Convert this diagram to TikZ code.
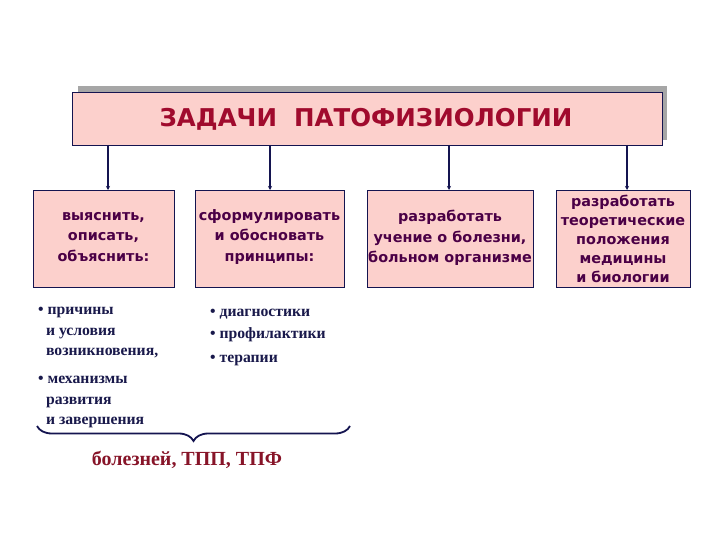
\documentclass[tikz,border=0pt]{standalone}
\usepackage{fontspec}
\setmainfont{Liberation Serif}
\newfontfamily\boxfont{DejaVu Sans}
\usetikzlibrary{arrows.meta,decorations.pathreplacing}
\definecolor{pinkfill}{RGB}{252,208,204}
\definecolor{navy}{RGB}{20,20,80}
\definecolor{titlered}{RGB}{160,10,45}
\definecolor{boxtext}{RGB}{75,0,70}
\definecolor{listtext}{RGB}{25,25,75}
\definecolor{bottomred}{RGB}{135,20,40}
\tikzset{
  pbox/.style={draw=navy,line width=0.8pt,fill=pinkfill,inner sep=0pt},
  btext/.style={font=\boxfont\bfseries\fontsize{14.4}{20.5}\selectfont,text=boxtext,align=center},
  conn/.style={draw=navy,line width=1.6pt,-{Stealth[length=4pt,width=4pt]}},
  ltext/.style={font=\bfseries\fontsize{15.7}{20.5}\selectfont,text=listtext,align=left,anchor=north west,inner sep=0pt},
}
\begin{document}
\begin{tikzpicture}[x=1pt,y=-1pt]
\useasboundingbox[fill=white] (0,0) rectangle (720,540);
% title shadow
\fill[gray!70] (78,86) rectangle (667,140);
\node[pbox,minimum width=590,minimum height=53,anchor=north west] (title) at (72,92) {};
\node[font=\boxfont\bfseries\fontsize{24.5}{28}\selectfont,text=titlered] (tt) at (366,119) {ЗАДАЧИ\ \ ПАТОФИЗИОЛОГИИ};
% boxes
\node[pbox,minimum width=141,minimum height=97,anchor=north west] (b1) at (33,190) {};
\node[pbox,minimum width=149,minimum height=97,anchor=north west] (b2) at (195,190) {};
\node[pbox,minimum width=166,minimum height=97,anchor=north west] (b3) at (367,190) {};
\node[pbox,minimum width=134,minimum height=97,anchor=north west] (b4) at (556,190) {};
\node[btext] (t1) at (103.5,237) {выяснить,\\описать,\\объяснить:};
\node[btext] (t2) at (269.5,237) {сформулировать\\и обосновать\\принципы:};
\node[btext] (t3) at (450,238) {разработать\\учение о болезни,\\больном организме};
\node[btext,font=\boxfont\bfseries\fontsize{14.4}{19}\selectfont] (t4) at (623,239) {разработать\\теоретические\\положения\\медицины\\и биологии};
% connectors
\coordinate (a1) at (108,145); \coordinate (a2) at (270,145);
\coordinate (a3) at (449,145); \coordinate (a4) at (627,145);
\draw[conn] (a1) -- (a1 |- b1.north);
\draw[conn] (a2) -- (a2 |- b2.north);
\draw[conn] (a3) -- (a3 |- b3.north);
\draw[conn] (a4) -- (a4 |- b4.north);
% lists
\node[ltext] (l1) at (38,307) {• причины\\\ \ и условия\\\ \ возникновения,};
\node[ltext] (l2) at (38,376) {• механизмы\\\ \ развития\\\ \ и завершения};
\node[ltext] (l3) at (210,309) {• диагностики\\[1.5pt]• профилактики\\[3pt]• терапии};
% brace
\coordinate (br1) at (37,426); \coordinate (br2) at (350,426);
\draw[navy,line width=1.8pt,decorate,decoration={brace,mirror,amplitude=15pt,aspect=0.5}] (br1) -- (br2);
\node[font=\bfseries\fontsize{20}{24}\selectfont,text=bottomred] (bt) at (187,460) {болезней, ТПП, ТПФ};
\end{tikzpicture}
\end{document}
